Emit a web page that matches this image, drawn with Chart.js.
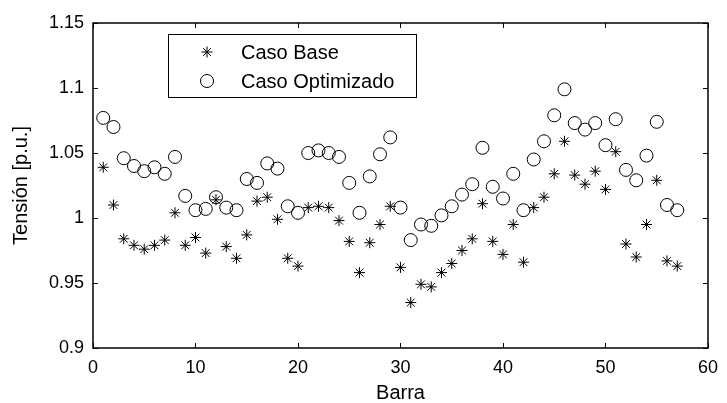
<!DOCTYPE html>
<html>
<head>
<meta charset="utf-8">
<script src="https://cdn.jsdelivr.net/npm/chart.js@4"></script>
<style>
  html, body { margin: 0; padding: 0; background: #fff; }
  #wrap { width: 727px; height: 403px; }
</style>
</head>
<body>
<div id="wrap"><canvas id="voltChart" width="727" height="403"></canvas></div>
<script>
// datos
const barras = [1, 2, 3, 4, 5, 6, 7, 8, 9, 10, 11, 12, 13, 14, 15, 16, 17, 18, 19, 20,
    21, 22, 23, 24, 25, 26, 27, 28, 29, 30, 31, 32, 33, 34, 35, 36, 37, 38, 39, 40,
    41, 42, 43, 44, 45, 46, 47, 48, 49, 50, 51, 52, 53, 54, 55, 56, 57];
const casoBase = [1.039, 1.010, 0.984, 0.979, 0.976, 0.979, 0.983, 1.004, 0.979, 0.985,
    0.973, 1.014, 0.978, 0.969, 0.987, 1.013, 1.016, 0.999, 0.969, 0.963,
    1.008, 1.009, 1.008, 0.998, 0.982, 0.958, 0.981, 0.995, 1.009, 0.962,
    0.935, 0.949, 0.947, 0.958, 0.965, 0.975, 0.984, 1.011, 0.982, 0.972,
    0.995, 0.966, 1.008, 1.016, 1.034, 1.059, 1.033, 1.026, 1.036, 1.022,
    1.051, 0.980, 0.970, 0.995, 1.029, 0.967, 0.963];
const casoOptimizado = [1.077, 1.070, 1.046, 1.040, 1.036, 1.039, 1.034, 1.047, 1.017, 1.006,
    1.007, 1.016, 1.008, 1.006, 1.030, 1.027, 1.042, 1.038, 1.009, 1.004,
    1.050, 1.052, 1.050, 1.047, 1.027, 1.004, 1.032, 1.049, 1.062, 1.008,
    0.983, 0.995, 0.994, 1.002, 1.009, 1.018, 1.026, 1.054, 1.024, 1.015,
    1.034, 1.006, 1.045, 1.059, 1.079, 1.099, 1.073, 1.068, 1.073, 1.056,
    1.076, 1.037, 1.029, 1.048, 1.074, 1.010, 1.006];
const xTicks = [0, 10, 20, 30, 40, 50, 60];
const yTicks = [0.9, 0.95, 1, 1.05, 1.1, 1.15];
const yTickLabels = ['0.9', '0.95', '1', '1.05', '1.1', '1.15'];

const FONT = 'Arial, "Liberation Sans", Helvetica, sans-serif';

const toPoints = (ys) => barras.map((b, i) => ({ x: b, y: ys[i] }));

// marco tipo matlab: caja con marcas hacia dentro
const framePlugin = {
    id: 'frame',
    afterDraw(chart) {
        const { ctx, chartArea: a, scales } = chart;
        const len = 5;
        ctx.save();
        ctx.strokeStyle = '#000';
        ctx.lineWidth = 1;
        xTicks.forEach(v => {
            const px = Math.round(scales.x.getPixelForValue(v)) + 0.5;
            ctx.beginPath();
            ctx.moveTo(px, a.bottom); ctx.lineTo(px, a.bottom - len);
            ctx.moveTo(px, a.top); ctx.lineTo(px, a.top + len);
            ctx.stroke();
        });
        yTicks.forEach(v => {
            const py = Math.round(scales.y.getPixelForValue(v)) + 0.5;
            ctx.beginPath();
            ctx.moveTo(a.left, py); ctx.lineTo(a.left + len, py);
            ctx.moveTo(a.right, py); ctx.lineTo(a.right - len, py);
            ctx.stroke();
        });
        ctx.lineWidth = 1.5;
        ctx.strokeRect(a.left, a.top, a.right - a.left, a.bottom - a.top);
        ctx.restore();
    }
};

// leyenda dentro del area
const legendPlugin = {
    id: 'boxLegend',
    afterDraw(chart) {
        const { ctx, chartArea: a } = chart;
        const bx = a.left + 75, by = a.top + 11, bw = 248, bh = 63;
        ctx.save();
        ctx.fillStyle = '#fff';
        ctx.fillRect(bx, by, bw, bh);
        ctx.strokeStyle = '#000';
        ctx.lineWidth = 1;
        ctx.strokeRect(bx + 0.5, by + 0.5, bw, bh);
        chart.data.datasets.forEach((ds, i) => {
            const y = by + 18 + i * 29;
            ctx.fillStyle = 'rgba(0,0,0,0)';
            ctx.strokeStyle = '#000';
            ctx.lineWidth = 1;
            Chart.helpers.drawPoint(ctx, {
                pointStyle: ds.pointStyle,
                radius: ds.pointRadius,
                borderWidth: 1
            }, bx + 39, y);
            ctx.fillStyle = '#000';
            ctx.font = '20px ' + FONT;
            ctx.textBaseline = 'middle';
            ctx.textAlign = 'left';
            ctx.fillText(ds.label, bx + 73, y + 1);
        });
        ctx.restore();
    }
};

new Chart(document.getElementById('voltChart'), {
    type: 'scatter',
    data: {
        datasets: [{
            label: 'Caso Base',
            data: toPoints(casoBase),
            pointStyle: 'star',
            pointRadius: 5.5,
            borderColor: '#000',
            backgroundColor: 'rgba(0,0,0,0)',
            borderWidth: 1
        }, {
            label: 'Caso Optimizado',
            data: toPoints(casoOptimizado),
            pointStyle: 'circle',
            pointRadius: 6.5,
            borderColor: '#000',
            backgroundColor: 'rgba(0,0,0,0)',
            borderWidth: 1
        }]
    },
    options: {
        responsive: false,
        animation: false,
        events: [],
        layout: { padding: { top: 23, right: 14, left: 0, bottom: 0 } },
        plugins: {
            legend: { display: false },
            tooltip: { enabled: false }
        },
        scales: {
            x: {
                type: 'linear',
                min: 0,
                max: 60,
                afterBuildTicks: (s) => { s.ticks = xTicks.map(v => ({ value: v })); },
                afterFit: (s) => { s.height = 55; },
                grid: { display: false, drawTicks: false },
                border: { display: false },
                ticks: { color: '#000', font: { family: FONT, size: 18 }, padding: 9 },
                title: {
                    display: true,
                    text: 'Barra',
                    color: '#000',
                    font: { family: FONT, size: 20, lineHeight: 1 },
                    padding: 0
                }
            },
            y: {
                type: 'linear',
                min: 0.9,
                max: 1.15,
                afterBuildTicks: (s) => { s.ticks = yTicks.map(v => ({ value: v })); },
                afterFit: (s) => { s.width = 93; },
                grid: { display: false, drawTicks: false },
                border: { display: false },
                ticks: {
                    color: '#000',
                    font: { family: FONT, size: 18 },
                    padding: 9,
                    callback: (v) => yTickLabels[yTicks.findIndex(t => Math.abs(t - v) < 1e-9)]
                },
                title: {
                    display: true,
                    text: 'Tensión [p.u.]',
                    color: '#000',
                    font: { family: FONT, size: 20, lineHeight: 1 },
                    padding: { top: 11, bottom: 0 }
                }
            }
        }
    },
    plugins: [framePlugin, legendPlugin]
});
</script>
</body>
</html>
